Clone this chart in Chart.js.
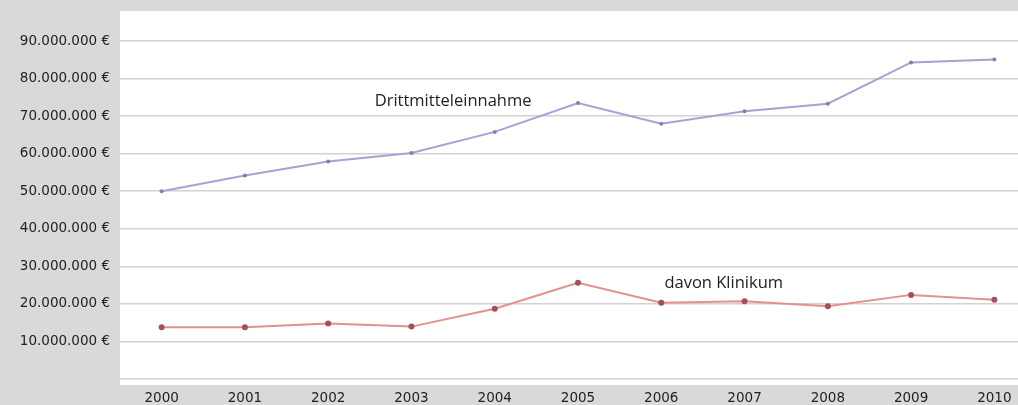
<!DOCTYPE html>
<html>
<head>
<meta charset="utf-8">
<script src="https://cdn.jsdelivr.net/npm/chart.js@4/dist/chart.umd.min.js"></script>
<style>
    html, body { margin: 0; padding: 0; background: #d9d9d9; overflow: hidden; }
    #wrap { width: 1040px; height: 405px; }
</style>
</head>
<body>
<div id="wrap"><canvas id="charts" width="1040" height="405"></canvas></div>
<script>
var years = ['2000', '2001', '2002', '2003', '2004', '2005', '2006', '2007', '2008', '2009', '2010'];
var drittmittel = [50000000, 54200000, 57900000, 60200000, 65800000, 73500000, 68000000, 71300000, 73300000, 84300000, 85100000];
var klinikum = [13800000, 13800000, 14800000, 13950000, 18700000, 25600000, 20300000, 20700000, 19400000, 22400000, 21100000];
var yTicks = [0, 10000000, 20000000, 30000000, 40000000, 50000000, 60000000, 70000000, 80000000, 90000000];
// series labels sit inside the plot: [text, category position, value]
var seriesLabels = [
    ['Drittmitteleinnahme', 3.5, 73900000],
    ['davon Klinikum', 6.75, 25400000]
];

var font = '"Open Sans", "DejaVu Sans", sans-serif';
var tickFont = '"DejaVu Sans", sans-serif';

function euro(v){
    if(v == 0) return '';
    return String(v).replace(/\B(?=(\d{3})+(?!\d))/g, '.') + ' €';
}

// white plot area + text labels
var plotBg = {
    id: 'plotBg',
    beforeDraw: function(chart){
        var a = chart.chartArea;
        var c = chart.ctx;
        c.save();
        c.fillStyle = '#ffffff';
        c.fillRect(a.left, a.top, a.right - a.left, a.bottom - a.top);
        c.restore();
    },
    afterDatasetsDraw: function(chart){
        var c = chart.ctx;
        var x = chart.scales.x, y = chart.scales.y;
        c.save();
        c.fillStyle = '#222222';
        c.font = '16.5px ' + font;
        c.textAlign = 'center';
        c.textBaseline = 'middle';
        seriesLabels.forEach(function(l){
            c.fillText(l[0], x.getPixelForValue(l[1]), y.getPixelForValue(l[2]));
        });
        c.restore();
    }
};

var ctx = document.getElementById('charts').getContext('2d');
var chart = new Chart(ctx, {
    type: 'line',
    data: {
        labels: years,
        datasets: [
            {
                label: 'Drittmitteleinnahme',
                data: drittmittel,
                borderColor: '#a3a3d6',
                backgroundColor: '#7f7fb0',
                borderWidth: 2,
                pointRadius: 2,
                pointBorderWidth: 0,
                tension: 0
            },
            {
                label: 'davon Klinikum',
                data: klinikum,
                borderColor: '#e39090',
                backgroundColor: '#a34f5f',
                borderWidth: 2,
                pointRadius: 3,
                pointBorderWidth: 0,
                tension: 0
            }
        ]
    },
    options: {
        responsive: false,
        animation: false,
        layout: { padding: { top: 11, right: 2, left: 0, bottom: 0 } },
        plugins: {
            legend: { display: false },
            tooltip: { enabled: false }
        },
        scales: {
            y: {
                min: -1600000,
                max: 98000000,
                afterBuildTicks: function(scale){
                    scale.ticks = yTicks.map(function(v){ return { value: v }; });
                },
                afterFit: function(scale){
                    scale.width = 120;
                    scale.paddingTop = 0;
                    scale.paddingBottom = 0;
                },
                border: { display: false },
                grid: {
                    color: '#d2d2d2',
                    lineWidth: 1.5,
                    drawTicks: false
                },
                ticks: {
                    padding: 10,
                    color: '#222222',
                    font: { family: tickFont, size: 13.5 },
                    callback: function(v){ return euro(v); }
                }
            },
            x: {
                offset: true,
                afterFit: function(scale){
                    scale.height = 20;
                    scale.paddingLeft = 0;
                    scale.paddingRight = 0;
                },
                border: { display: false },
                grid: { display: false, drawTicks: false },
                ticks: {
                    padding: 5,
                    maxRotation: 0,
                    color: '#222222',
                    font: { family: tickFont, size: 13.5 }
                }
            }
        }
    },
    plugins: [plotBg]
});
</script>
</body>
</html>
